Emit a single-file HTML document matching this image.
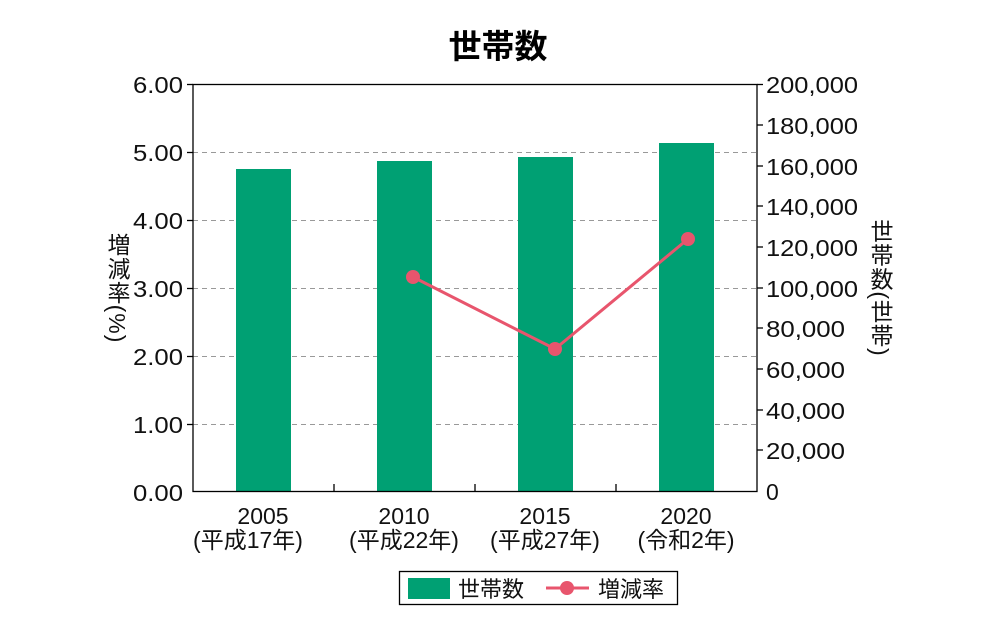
<!DOCTYPE html>
<html><head><meta charset="utf-8"><style>body{margin:0;background:#fff}</style></head><body>
<svg width="996" height="636" xmlns="http://www.w3.org/2000/svg" font-family="'Liberation Sans','Noto Sans CJK JP',sans-serif">
<rect width="996" height="636" fill="#fff"/>
<text x="498" y="58" font-size="33" font-weight="bold" text-anchor="middle">世帯数</text>
<g stroke="#999" stroke-dasharray="5,4" stroke-width="1">
<line x1="193" x2="757" y1="152.5" y2="152.5"/><line x1="193" x2="757" y1="220.5" y2="220.5"/>
<line x1="193" x2="757" y1="288.5" y2="288.5"/><line x1="193" x2="757" y1="356.5" y2="356.5"/>
<line x1="193" x2="757" y1="424.5" y2="424.5"/>
</g>
<g fill="#00a073">
<rect x="236" y="169" width="55" height="322"/>
<rect x="377" y="161" width="55" height="330"/>
<rect x="518" y="157" width="55" height="334"/>
<rect x="659" y="143" width="55" height="348"/>
</g>
<rect x="193" y="84.5" width="564" height="407" fill="none" stroke="#000" stroke-width="1.3"/>
<g stroke="#000" stroke-width="1.3">
<line x1="334" x2="334" y1="484" y2="491"/><line x1="475" x2="475" y1="484" y2="491"/><line x1="616" x2="616" y1="484" y2="491"/>
<line x1="187" x2="193" y1="84.5" y2="84.5"/><line x1="187" x2="193" y1="152.5" y2="152.5"/><line x1="187" x2="193" y1="220.5" y2="220.5"/><line x1="187" x2="193" y1="288.5" y2="288.5"/><line x1="187" x2="193" y1="356.5" y2="356.5"/><line x1="187" x2="193" y1="424.5" y2="424.5"/>
<line x1="757" x2="763" y1="84.5" y2="84.5"/><line x1="757" x2="763" y1="125" y2="125"/><line x1="757" x2="763" y1="166" y2="166"/><line x1="757" x2="763" y1="206" y2="206"/><line x1="757" x2="763" y1="247" y2="247"/><line x1="757" x2="763" y1="288" y2="288"/><line x1="757" x2="763" y1="328" y2="328"/><line x1="757" x2="763" y1="369" y2="369"/><line x1="757" x2="763" y1="410" y2="410"/><line x1="757" x2="763" y1="450" y2="450"/>
</g>
<polyline points="413,277 555,349 688,239" fill="none" stroke="#e8556d" stroke-width="3"/>
<g fill="#e8556d"><circle cx="413" cy="277" r="7"/><circle cx="555" cy="349" r="7"/><circle cx="688" cy="239" r="7"/></g>
<g font-size="23" text-anchor="end" fill="#111">
<text x="183" y="93" textLength="50" lengthAdjust="spacingAndGlyphs">6.00</text><text x="183" y="161" textLength="50" lengthAdjust="spacingAndGlyphs">5.00</text><text x="183" y="229" textLength="50" lengthAdjust="spacingAndGlyphs">4.00</text><text x="183" y="297" textLength="50" lengthAdjust="spacingAndGlyphs">3.00</text><text x="183" y="365" textLength="50" lengthAdjust="spacingAndGlyphs">2.00</text><text x="183" y="433" textLength="50" lengthAdjust="spacingAndGlyphs">1.00</text><text x="183" y="501" textLength="50" lengthAdjust="spacingAndGlyphs">0.00</text>
</g>
<g font-size="23" text-anchor="start" fill="#111">
<text x="766" y="93" textLength="92" lengthAdjust="spacingAndGlyphs">200,000</text><text x="766" y="134" textLength="92" lengthAdjust="spacingAndGlyphs">180,000</text><text x="766" y="175" textLength="92" lengthAdjust="spacingAndGlyphs">160,000</text><text x="766" y="215" textLength="92" lengthAdjust="spacingAndGlyphs">140,000</text><text x="766" y="256" textLength="92" lengthAdjust="spacingAndGlyphs">120,000</text><text x="766" y="297" textLength="92" lengthAdjust="spacingAndGlyphs">100,000</text><text x="766" y="337" textLength="79" lengthAdjust="spacingAndGlyphs">80,000</text><text x="766" y="378" textLength="79" lengthAdjust="spacingAndGlyphs">60,000</text><text x="766" y="419" textLength="79" lengthAdjust="spacingAndGlyphs">40,000</text><text x="766" y="459" textLength="79" lengthAdjust="spacingAndGlyphs">20,000</text><text x="766" y="500">0</text>
</g>
<g font-size="23" text-anchor="middle" fill="#111">
<text x="263" y="524">2005</text><text x="248" y="548">(平成17年)</text>
<text x="404" y="524">2010</text><text x="404" y="548">(平成22年)</text>
<text x="545" y="524">2015</text><text x="545" y="548">(平成27年)</text>
<text x="686" y="524">2020</text><text x="686" y="548">(令和2年)</text>
</g>
<text x="117" y="288" font-size="23" fill="#111" text-anchor="middle" writing-mode="tb" letter-spacing="1">増減率(%)</text>
<text x="880" y="288" font-size="23" fill="#111" text-anchor="middle" writing-mode="tb" letter-spacing="1">世帯数(世帯)</text>
<rect x="399.5" y="571.5" width="278" height="33" fill="#fff" stroke="#000" stroke-width="1.3"/>
<rect x="408" y="578" width="42" height="21" fill="#00a073"/>
<text x="458" y="597" font-size="22" fill="#111">世帯数</text>
<line x1="546" x2="589" y1="588" y2="588" stroke="#e8556d" stroke-width="3"/>
<circle cx="567" cy="588" r="7" fill="#e8556d"/>
<text x="598" y="597" font-size="22" fill="#111">増減率</text>
</svg>
</body></html>
